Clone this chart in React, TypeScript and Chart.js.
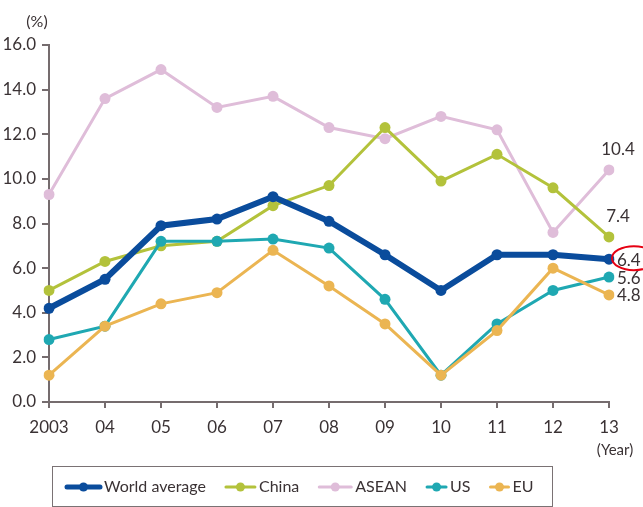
import React, { useEffect, useRef } from "react";
import { Chart, registerables } from "chart.js";

Chart.register(...registerables);

const years = ["2003", "04", "05", "06", "07", "08", "09", "10", "11", "12", "13"];
const worldAverage = [4.2, 5.5, 7.9, 8.2, 9.2, 8.1, 6.6, 5.0, 6.6, 6.6, 6.4];
const china = [5.0, 6.3, 7.0, 7.2, 8.8, 9.7, 12.3, 9.9, 11.1, 9.6, 7.4];
const asean = [9.3, 13.6, 14.9, 13.2, 13.7, 12.3, 11.8, 12.8, 12.2, 7.6, 10.4];
const us = [2.8, 3.4, 7.2, 7.2, 7.3, 6.9, 4.6, 1.2, 3.5, 5.0, 5.6];
const eu = [1.2, 3.4, 4.4, 4.9, 6.8, 5.2, 3.5, 1.2, 3.2, 6.0, 4.8];
const seriesNames = ["World average", "China", "ASEAN", "US", "EU"];
const yMin = 0;
const yMax = 16;
const yStep = 2;
const yUnit = "(%)";
const xUnit = "(Year)";

const FONT = "Lato, 'Noto Sans', sans-serif";
const TEXT = "#3a3234";
const AXIS = "#756c6e";

const styles = [
  { color: "#0a4c9c", width: 6, radius: 5.5, order: 0, legendSym: 33, legendLine: 5, label: { pos: "right" }, highlight: true },
  { color: "#b3c23b", width: 3, radius: 5.5, order: 3, legendSym: 29, legendLine: 3, label: { pos: "above" } },
  { color: "#dfbdd9", width: 3, radius: 5.5, order: 4, legendSym: 32, legendLine: 3, label: { pos: "above" } },
  { color: "#1fa8b2", width: 3, radius: 5.5, order: 2, legendSym: 19, legendLine: 3, label: { pos: "right" } },
  { color: "#ebb552", width: 3, radius: 5.5, order: 1, legendSym: 18, legendLine: 3, label: { pos: "right" } },
];

const endLabelPlugin = {
  id: "endLabels",
  afterDatasetsDraw(chart: any) {
    const ctx = chart.ctx;
    ctx.save();
    ctx.font = `17px ${FONT}`;
    ctx.fillStyle = TEXT;
    chart.data.datasets.forEach((ds: any, i: number) => {
      const meta = chart.getDatasetMeta(i);
      const n = ds.data.length - 1;
      const pt = meta.data[n];
      const txt = Number(ds.data[n]).toFixed(1);
      const st = styles[i];
      if (st.label.pos === "above") {
        ctx.textAlign = "center";
        ctx.textBaseline = "middle";
        ctx.fillText(txt, pt.x + 9, pt.y - 20);
      } else {
        ctx.textAlign = "left";
        ctx.textBaseline = "middle";
        ctx.fillText(txt, pt.x + 8, pt.y + 1);
        if (st.highlight) {
          const w = ctx.measureText(txt).width;
          ctx.beginPath();
          ctx.strokeStyle = "#e60012";
          ctx.lineWidth = 2;
          ctx.ellipse(pt.x + 8 + w / 2 + 5, pt.y - 1, w / 2 + 10, 12, 0, 0, Math.PI * 2);
          ctx.stroke();
        }
      }
    });
    ctx.restore();
  },
};

const decorPlugin = {
  id: "decor",
  afterDraw(chart: any) {
    const ctx = chart.ctx;
    const area = chart.chartArea;
    ctx.save();
    ctx.fillStyle = TEXT;
    ctx.font = `16px ${FONT}`;
    ctx.textBaseline = "middle";
    ctx.textAlign = "center";
    ctx.fillText(yUnit, area.left - 12, area.top - 23);
    ctx.font = `15px ${FONT}`;
    ctx.fillText(xUnit, area.right + 6, area.bottom + 48);

    // legend box
    ctx.strokeStyle = "#7a7274";
    ctx.lineWidth = 1;
    ctx.strokeRect(52.5, 466.5, 500, 40);
    let x = 67;
    const cy = 487;
    ctx.font = `16px ${FONT}`;
    ctx.textAlign = "left";
    chart.data.datasets.forEach((ds: any, i: number) => {
      const st = styles[i];
      ctx.strokeStyle = st.color;
      ctx.lineWidth = st.legendLine;
      ctx.lineCap = "round";
      ctx.beginPath();
      ctx.moveTo(x, cy);
      ctx.lineTo(x + st.legendSym, cy);
      ctx.stroke();
      ctx.fillStyle = st.color;
      ctx.beginPath();
      ctx.arc(x + st.legendSym / 2, cy, 4.5, 0, Math.PI * 2);
      ctx.fill();
      ctx.fillStyle = TEXT;
      const tx = x + st.legendSym + 4;
      ctx.fillText(ds.label, tx, cy);
      x = tx + ctx.measureText(ds.label).width + 20;
    });
    ctx.restore();
  },
};

export default function App() {
  const ref = useRef<HTMLCanvasElement>(null);
  useEffect(() => {
    if (!ref.current) return;
    const all = [worldAverage, china, asean, us, eu];
    const chart = new Chart(ref.current, {
      type: "line",
      data: {
        labels: years,
        datasets: all.map((d, i) => ({
          label: seriesNames[i],
          data: d,
          borderColor: styles[i].color,
          backgroundColor: styles[i].color,
          pointBackgroundColor: styles[i].color,
          pointBorderWidth: 0,
          pointRadius: styles[i].radius,
          borderWidth: styles[i].width,
          order: styles[i].order,
          tension: 0,
          fill: false,
        })),
      },
      options: {
        responsive: false,
        animation: false,
        layout: { padding: { top: 45, right: 34, left: 0, bottom: 0 } },
        plugins: { legend: { display: false }, tooltip: { enabled: false } },
        scales: {
          x: {
            type: "category",
            offset: false,
            grid: { display: true, drawOnChartArea: false, drawTicks: true, tickLength: 6, color: AXIS, lineWidth: 2 },
            border: { display: true, color: AXIS, width: 2 },
            ticks: { color: TEXT, font: { family: FONT, size: 17 }, padding: 9, autoSkip: false, maxRotation: 0 },
            afterFit: (s: any) => { s.height = 105; },
          },
          y: {
            min: yMin,
            max: yMax,
            grid: { display: true, drawOnChartArea: false, drawTicks: true, tickLength: 7, color: AXIS, lineWidth: 2 },
            border: { display: true, color: AXIS, width: 2 },
            ticks: {
              stepSize: yStep,
              color: TEXT,
              font: { family: FONT, size: 17 },
              padding: 6,
              callback: (v: any) => Number(v).toFixed(1),
            },
            afterFit: (s: any) => { s.width = 49; },
          },
        },
      },
      plugins: [endLabelPlugin, decorPlugin],
    } as any);
    return () => chart.destroy();
  }, []);
  return (
    <div style={{ position: "fixed", left: 0, top: 0, width: 643, height: 507, background: "#fff" }}>
      <canvas ref={ref} width={643} height={507} style={{ display: "block" }} />
    </div>
  );
}
